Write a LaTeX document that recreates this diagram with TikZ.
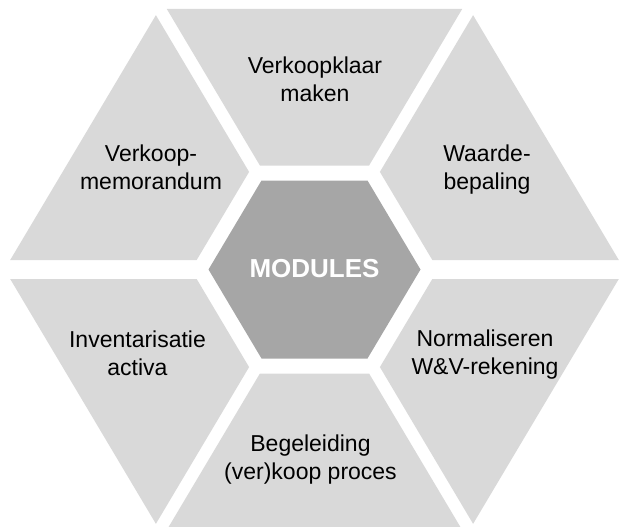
\documentclass[tikz,border=0pt]{standalone}
\usepackage{fontspec}
\setmainfont{Liberation Sans}
\definecolor{seggray}{HTML}{D9D9D9}
\definecolor{hubgray}{HTML}{A6A6A6}
\begin{document}
\begin{tikzpicture}[x=1pt,y=-1pt,
  segfill/.style={fill=seggray, draw=none},
  hubfill/.style={fill=hubgray, draw=none},
  modtext/.style={font=\fontsize{23}{28}\selectfont, align=center, anchor=north, inner sep=0pt, text=black},
  hubtext/.style={font=\bfseries\fontsize{26}{30}\selectfont, text=white, anchor=base, inner sep=0pt}]
\useasboundingbox (0,0) rectangle (619,527);
\clip (0,0) rectangle (619,527);
% outer segments
\fill[segfill] (166.8,9) -- (462.2,9) -- (369.1,165.5) -- (259.9,165.5) -- cycle;
\fill[segfill] (166.8,530) -- (462.2,530) -- (369.1,373.5) -- (259.9,373.5) -- cycle;
\fill[segfill] (473.1,15.15) -- (618.8,260) -- (432.3,260) -- (379.9,171.9) -- cycle;
\fill[segfill] (155.9,15.15) -- (10.2,260) -- (196.7,260) -- (249.1,171.9) -- cycle;
\fill[segfill] (473.1,523.85) -- (618.8,279) -- (432.3,279) -- (379.9,367.1) -- cycle;
\fill[segfill] (155.9,523.85) -- (10.2,279) -- (196.7,279) -- (249.1,367.1) -- cycle;
% centre hexagon
\fill[hubfill] (420.5,269.5) -- (367.5,180.5) -- (261.5,180.5) -- (208.5,269.5) -- (261.5,358.5) -- (367.5,358.5) -- cycle;
% texts
\node[hubtext] (hub) at (314.5,277.5) {MODULES};
\node[modtext] (t1) at (315,57) {Verkoopklaar\\maken};
\node[modtext] (t2) at (151,145) {Verkoop-\\memorandum};
\node[modtext] (t3) at (487,145) {Waarde-\\bepaling};
\node[modtext] (t4) at (137.5,331) {Inventarisatie\\activa};
\node[modtext] (t5) at (485,330) {Normaliseren\\W\&V-rekening};
\node[modtext] (t6) at (310.5,435) {Begeleiding\\(ver)koop proces};
\end{tikzpicture}
\end{document}
